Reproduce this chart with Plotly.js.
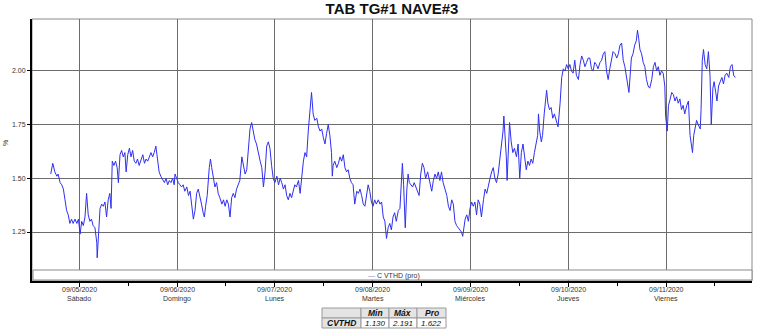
<!DOCTYPE html>
<html>
<head>
<meta charset="utf-8">
<script src="https://cdn.plot.ly/plotly-3.0.1.min.js"></script>
<style>html,body{margin:0;padding:0;background:#fff;}#chart{width:763px;height:332px;}</style>
</head>
<body>
<div id="chart"></div>
<script>
// ---- DATA (hours from 09/05/2020 00:00, CVTHD %) ----
const hFri0 = [-7.0,-6.5,-6.0,-5.5,-5.2,-4.7,-4.3,-3.9,-3.5,-3.1,-2.7,-2.3,-1.9,-1.5,-1.05,-0.6,-0.2];
const vFri0 = [1.52,1.57,1.53,1.51,1.52,1.48,1.47,1.45,1.40,1.35,1.33,1.29,1.31,1.29,1.31,1.29,1.31];

const hSat = [0.2,0.6,1.0,1.4,1.8,2.2,2.6,3.0,3.4,3.85,4.3,4.4,4.7,5.1,5.5,5.9,6.3,6.7,7.1,7.5,7.8,8.1,8.5,8.9,9.3,9.6,10.0,10.4,10.8,11.2,11.5,11.9,12.3,12.7,13.1,13.5,13.9,14.3,14.7,15.1,15.6,16.0,16.4,16.8,17.2,17.6,18.0,18.4,18.8,19.2,19.6,20.0,20.5,20.9,21.3,21.7,22.1,22.5,22.9,23.3,23.5,23.9];
const vSat = [1.24,1.30,1.28,1.32,1.43,1.33,1.30,1.31,1.28,1.27,1.20,1.13,1.26,1.36,1.38,1.37,1.39,1.32,1.40,1.43,1.36,1.58,1.56,1.58,1.55,1.48,1.61,1.63,1.60,1.62,1.53,1.61,1.64,1.60,1.63,1.58,1.57,1.59,1.56,1.58,1.61,1.57,1.59,1.58,1.60,1.62,1.60,1.62,1.65,1.58,1.53,1.51,1.49,1.48,1.50,1.47,1.49,1.48,1.50,1.47,1.52,1.50];

const hSun = [24.3,24.7,25.1,25.5,25.9,26.4,26.8,27.2,27.6,28.0,28.4,28.8,29.2,29.6,30.0,30.4,30.7,31.0,31.4,31.9,32.2,32.5,32.9,33.3,33.7,34.1,34.5,35.0,35.4,35.8,36.2,36.6,37.0,37.4,37.8,38.2,38.6,39.0,39.4,39.9,40.3,40.7,41.1,41.5,41.9,42.3,42.7,43.1,43.5,43.9,44.4,44.8,45.2,45.6,46.0,46.4,46.8,47.2,47.6];
const vSun = [1.48,1.47,1.46,1.47,1.44,1.46,1.42,1.44,1.36,1.31,1.35,1.43,1.45,1.42,1.38,1.34,1.32,1.37,1.42,1.55,1.59,1.55,1.50,1.46,1.48,1.43,1.41,1.38,1.40,1.37,1.40,1.38,1.32,1.41,1.43,1.41,1.45,1.47,1.49,1.60,1.55,1.52,1.54,1.62,1.73,1.76,1.72,1.68,1.66,1.62,1.58,1.55,1.46,1.53,1.65,1.67,1.64,1.56,1.50];

const hMon = [48.0,48.5,48.9,49.3,49.7,50.1,50.5,50.9,51.3,51.7,52.1,52.5,52.9,53.3,53.8,54.2,54.6,55.0,55.4,55.8,56.2,56.6,57.0,57.4,57.8,58.3,58.7,59.1,59.5,59.9,60.3,60.7,61.1,61.5,61.9,62.1,62.3,62.7,63.2,63.6,64.0,64.4,64.8,65.2,65.6,66.0,66.4,66.8,67.2,67.6,68.1,68.5,68.9,69.3,69.7,70.1,70.5,70.9,71.3,71.7];
const vMon = [1.48,1.51,1.47,1.50,1.48,1.45,1.47,1.42,1.40,1.43,1.41,1.44,1.47,1.46,1.49,1.43,1.52,1.58,1.62,1.60,1.72,1.80,1.90,1.80,1.77,1.78,1.74,1.72,1.73,1.69,1.66,1.71,1.75,1.70,1.62,1.51,1.56,1.58,1.55,1.57,1.60,1.58,1.61,1.55,1.53,1.54,1.50,1.48,1.47,1.38,1.44,1.43,1.45,1.42,1.38,1.37,1.43,1.47,1.44,1.39];

const hTue = [72.1,72.5,72.9,73.4,73.8,74.2,74.6,75.0,75.4,75.8,76.2,76.6,77.0,77.4,77.8,78.3,78.7,79.1,79.3,79.6,79.8,80.0,80.4,80.7,81.0,81.4,81.8,82.2,82.6,83.0,83.4,83.8,84.2,84.6,85.0,85.5,86.1,86.5,86.9,87.3,87.7,88.1,88.5,88.9,89.3,89.7,90.2,90.6,91.0,91.4,91.8,92.2,92.6,93.0,93.4,93.8,94.1,94.4,94.7,95.1,95.5,95.9];
const vTue = [1.37,1.40,1.38,1.40,1.38,1.39,1.32,1.30,1.22,1.27,1.29,1.26,1.32,1.34,1.30,1.35,1.36,1.52,1.57,1.47,1.40,1.27,1.45,1.52,1.48,1.47,1.46,1.48,1.46,1.44,1.42,1.52,1.57,1.55,1.50,1.53,1.47,1.44,1.49,1.52,1.50,1.53,1.49,1.53,1.48,1.45,1.42,1.37,1.35,1.40,1.38,1.30,1.28,1.27,1.26,1.25,1.23,1.27,1.31,1.33,1.30,1.36];

const hWed = [96.3,96.7,97.1,97.5,97.9,98.3,98.7,99.2,99.6,100.0,100.4,100.8,101.2,101.6,102.0,102.4,102.8,103.2,103.6,104.0,104.2,104.5,104.8,105.0,105.3,105.6,106.0,106.4,106.8,107.3,107.7,108.1,108.5,108.9,109.3,109.7,110.1,110.5,110.9,111.3,111.7,112.1,112.5,112.7,113.0,113.4,113.7,114.1,114.5,114.7,115.0,115.4,115.8,116.2,116.6,117.1,117.5,118.0,118.4,118.8,119.2,119.6];
const vWed = [1.39,1.37,1.39,1.33,1.40,1.38,1.32,1.40,1.45,1.43,1.47,1.50,1.53,1.55,1.50,1.48,1.52,1.58,1.66,1.72,1.79,1.70,1.60,1.49,1.65,1.76,1.67,1.62,1.64,1.60,1.66,1.50,1.62,1.66,1.60,1.54,1.58,1.56,1.59,1.57,1.62,1.66,1.70,1.80,1.72,1.67,1.70,1.80,1.86,1.91,1.85,1.82,1.83,1.78,1.80,1.77,1.74,1.85,1.97,2.01,2.00,2.03];

const hThu = [120.0,120.4,120.8,121.2,121.6,122.0,122.5,122.9,123.3,123.7,124.1,124.5,124.9,125.3,125.7,126.1,126.5,126.9,127.3,127.8,128.2,128.6,129.0,129.4,129.8,130.2,130.6,131.0,131.5,131.9,132.3,132.7,133.1,133.5,133.9,134.3,134.7,134.9,135.2,135.5,135.9,136.3,136.7,137.0,137.3,137.6,138.0,138.4,138.8,139.2,139.6,140.0,140.5,140.9,141.3,141.7,142.1,142.5,142.9,143.3,143.7,143.9];
const vThu = [2.01,2.03,2.00,1.99,2.05,1.98,1.96,2.03,2.07,2.05,2.02,2.04,2.06,2.06,2.01,2.00,2.04,2.03,2.01,2.04,2.05,2.08,2.09,2.00,1.96,2.01,2.06,2.09,2.08,2.06,2.08,2.12,2.13,2.05,2.02,1.97,1.93,1.90,1.98,2.06,2.08,2.12,2.14,2.19,2.15,2.10,2.08,2.04,2.02,1.96,1.93,1.92,1.96,2.02,2.04,2.00,2.02,1.98,2.00,1.99,1.93,1.79];

const hFri = [144.3,144.6,144.9,145.4,145.8,146.2,146.6,147.0,147.4,147.8,148.2,148.6,149.1,149.5,149.9,150.3,150.5,150.8,151.2,151.5,151.9,152.4,152.6,152.9,153.2,153.6,154.0,154.4,154.8,155.1,155.5,155.8,156.2,156.5,156.9,157.3,157.7,158.1,158.5,158.9,159.4,159.8,160.2,160.6,161.0];
const vFri = [1.72,1.84,1.86,1.90,1.89,1.86,1.88,1.85,1.87,1.82,1.84,1.80,1.84,1.86,1.70,1.64,1.62,1.70,1.74,1.77,1.75,1.73,1.82,2.05,2.10,2.03,2.01,2.09,1.98,1.75,1.92,1.95,1.90,1.86,1.93,1.95,1.97,1.94,1.98,1.99,1.97,2.02,2.03,1.98,1.97];

const dayDates = ['2020-09-05','2020-09-06','2020-09-07','2020-09-08','2020-09-09','2020-09-10','2020-09-11'];
const dayLabels = ['09/05/2020','09/06/2020','09/07/2020','09/08/2020','09/09/2020','09/10/2020','09/11/2020'];
const dayNames = ['Sábado','Domingo','Lunes','Martes','Miércoles','Jueves','Viernes'];

const seriesName = 'C VTHD (pro)';
const statRowName = 'CVTHD';
const statNames = ['Min','Máx','Pro'];
const statValues = ['1.130','2.191','1.622'];

// ---- helpers ----
const base = Date.UTC(2020,8,5);
function pad(n){return (n<10?'0':'')+n;}
function hToDate(h){
  const d = new Date(base + Math.round(h*3600000));
  return d.getUTCFullYear()+'-'+pad(d.getUTCMonth()+1)+'-'+pad(d.getUTCDate())+' '+pad(d.getUTCHours())+':'+pad(d.getUTCMinutes())+':'+pad(d.getUTCSeconds());
}
const hours = [].concat(hFri0,hSat,hSun,hMon,hTue,hWed,hThu,hFri);
const vals  = [].concat(vFri0,vSat,vSun,vMon,vTue,vWed,vThu,vFri);
const xs = hours.map(hToDate);

// layout geometry (pixels)
const L=32, R=752, T=19, B=281;
const px2x = x => (x-L)/(R-L);
const px2y = y => (B-y)/(B-T);

const minorVals = dayDates.map(d => d+' 12:00:00').concat(['2020-09-04 12:00:00']);

const FONT = 'Liberation Sans, Arial, sans-serif';

const shapes = [
  {type:'rect', xref:'paper', yref:'paper', x0:0, x1:1, y0:0, y1:1, line:{color:'#8a8a8a', width:1}, layer:'below'},
  {type:'rect', xref:'paper', yref:'paper', x0:px2x(33), x1:px2x(752), y0:px2y(280), y1:px2y(270),
   fillcolor:'#ffffff', line:{color:'#8a8a8a', width:1}, layer:'above'}
];
const annotations = [
  {xref:'paper', yref:'paper', x:px2x(394), y:px2y(275.5), text:'<span style="color:#8888cc">—</span> '+seriesName,
   showarrow:false, font:{family:FONT, size:7, color:'#333'}, xanchor:'center', yanchor:'middle'},
  {xref:'paper', yref:'paper', x:px2x(5), y:px2y(143), text:'%', textangle:-90, showarrow:false,
   font:{family:FONT, size:7, color:'#333'}, xanchor:'center', yanchor:'middle'}
];

// x tick labels as annotations (two lines under each day gridline)
dayDates.forEach((d,i) => {
  annotations.push({xref:'x', yref:'paper', x:d+' 00:00:00', y:px2y(289.5), text:dayLabels[i], showarrow:false,
    font:{family:FONT, size:7, color:'#333'}, xanchor:'center', yanchor:'middle'});
  annotations.push({xref:'x', yref:'paper', x:d+' 00:00:00', y:px2y(298.5), text:dayNames[i], showarrow:false,
    font:{family:FONT, size:7, color:'#333'}, xanchor:'center', yanchor:'middle'});
});

// stats table drawn with shapes + annotations
const colEdges = [322, 361, 389, 417, 446];
const rowEdges = [308, 318, 328];
for (let r=0; r<2; r++){
  for (let c=0; c<4; c++){
    const grey = (r===0) || (c===0);
    shapes.push({type:'rect', xref:'paper', yref:'paper',
      x0:px2x(colEdges[c]), x1:px2x(colEdges[c+1]), y0:px2y(rowEdges[r+1]), y1:px2y(rowEdges[r]),
      fillcolor: grey ? '#e4e4e4' : '#ffffff', line:{color:'#9a9a9a', width:1}, layer:'above'});
  }
}
const cellText = [['', ...statNames], [statRowName, ...statValues]];
for (let r=0; r<2; r++){
  for (let c=0; c<4; c++){
    const t = cellText[r][c];
    if (!t) continue;
    const bold = (r===0) || (c===0);
    annotations.push({xref:'paper', yref:'paper',
      x: px2x((colEdges[c]+colEdges[c+1])/2), y: px2y((rowEdges[r]+rowEdges[r+1])/2),
      text: bold ? '<b><i>'+t+'</i></b>' : '<i>'+t+'</i>', showarrow:false,
      font:{family:FONT, size: bold ? 8.5 : 8, color:'#111'}, xanchor:'center', yanchor:'middle'});
  }
}

const trace = {
  x: xs, y: vals, type:'scatter', mode:'lines', name: seriesName,
  line:{color:'#2f2ff0', width:1}, hoverinfo:'x+y'
};

const layout = {
  width:763, height:332,
  margin:{l:L, r:763-R, t:T, b:332-B, pad:0},
  paper_bgcolor:'#ffffff', plot_bgcolor:'#ffffff',
  showlegend:false,
  title:{text:'<b>TAB TG#1 NAVE#3</b>', font:{family:FONT, size:15, color:'#111'},
         x:0.5, xanchor:'center', xref:'paper', y:1-9/332, yanchor:'middle', yref:'container'},
  xaxis:{
    type:'date', range:[hToDate(-11.6), hToDate(165.1)],
    tickmode:'array', tickvals: dayDates.map(d=>d+' 00:00:00'),
    showticklabels:false,
    showgrid:true, gridcolor:'#6c6c6c', gridwidth:1,
    showline:true, linecolor:'#000', linewidth:2,
    ticks:'outside', ticklen:4, tickcolor:'#000', tickwidth:1,
    minor:{tickmode:'array', tickvals:minorVals, ticks:'outside', ticklen:3, tickcolor:'#000', showgrid:false},
    zeroline:false, fixedrange:true
  },
  yaxis:{
    range:[1.022, 2.242],
    tickmode:'array', tickvals:[1.25,1.5,1.75,2.0], ticktext:['1.25','1.50','1.75','2.00'],
    showgrid:true, gridcolor:'#6c6c6c', gridwidth:1,
    showline:true, linecolor:'#000', linewidth:2,
    ticks:'outside', ticklen:3, tickcolor:'#000',
    tickfont:{family:FONT, size:7, color:'#333'},
    zeroline:false, fixedrange:true
  },
  shapes: shapes,
  annotations: annotations
};

Plotly.newPlot('chart', [trace], layout, {staticPlot:true, displayModeBar:false});
</script>
</body>
</html>
